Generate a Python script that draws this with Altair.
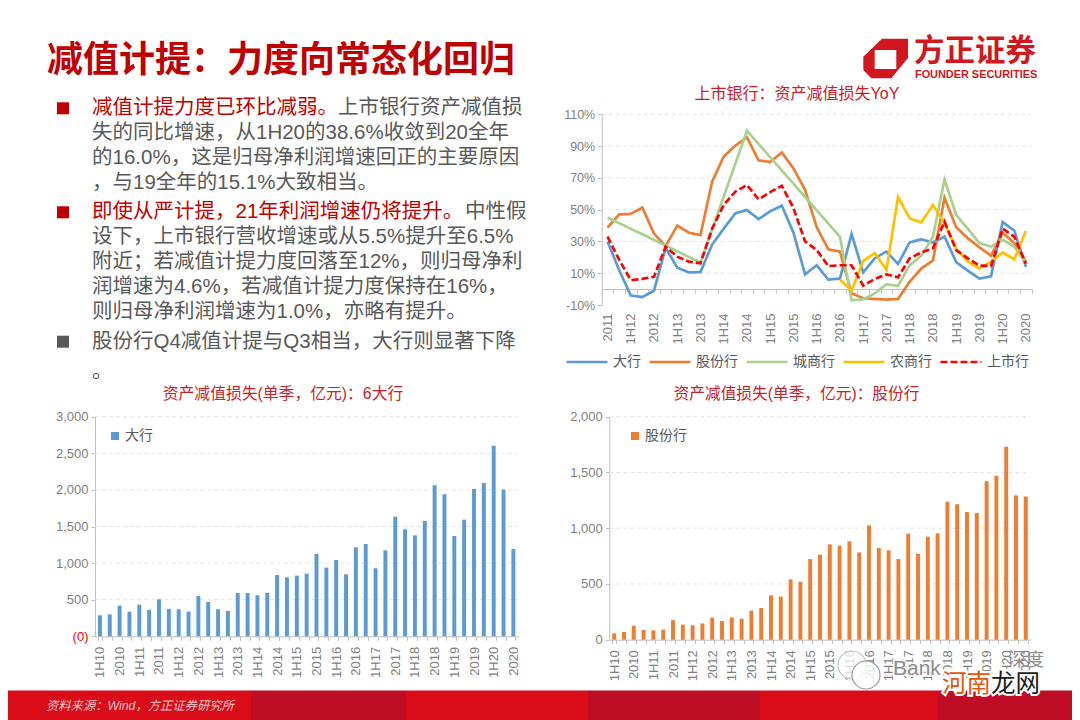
import altair as alt
import pandas as pd

W, H = 1064, 712
FONT = "Liberation Sans, Noto Sans CJK SC"
CJK = "Noto Sans CJK SC"
RED = "#C00000"
TITLE_RED = "#CB2027"
GRAY = "#595959"
TICK = "#7F7F7F"
AXIS = "#BFBFBF"
GRID = "#E4E4E4"

# ---------- values ----------
line_cats = ["2011","1Q12","1H12","3Q12","2012","1Q13","1H13","3Q13","2013","1Q14","1H14","3Q14","2014",
             "1Q15","1H15","3Q15","2015","1Q16","1H16","3Q16","2016","1Q17","1H17","3Q17","2017","1Q18",
             "1H18","3Q18","2018","1Q19","1H19","3Q19","2019","1Q20","1H20","3Q20","2020"]
big = [30,12,-4,-5,-1,26,13.5,10.5,10.7,28,38,47.7,49.8,44,49,52.5,35.5,9.3,15,6,6.6,34.7,10.5,19.4,23.6,
       15.8,29.4,31.3,29.4,33,17,11.6,6.6,8,42.2,36.8,14]
jsb = [38.7,47,47.3,51.3,35,27,40,35.5,34,67.6,83.4,90.3,95.5,81,80,86,76,62.4,39,25,23.6,-2.6,-5.8,-6.2,
       -6.6,-6.2,4.7,13,18,57.5,39,32,26.3,21,35.5,29,17.3]
city = [45,None,None,None,31,None,None,None,16.7,None,None,None,99.7,None,None,None,66.3,None,None,None,33,
        -7,-6.5,-2.7,3,2,15,21,33,69,46.7,38,29,26.7,31,26.7,16.7]
rural = [None]*20 + [6,-1,17.7,22.7,12,58,44.5,42,53,41.4,25.7,17.3,13,17.3,23,18.8,36.6]
listed = [33,18.5,5.7,6.4,7.8,26.7,20.4,17.3,16.2,38,53,61.3,65.5,56.5,61,65,51,30,24.6,14.5,15,15,2.2,6.4,
          9.3,7.4,19.4,23,25.7,42.5,24.6,19.4,14.8,14.5,38,33,16]
line_names = ["大行","股份行","城商行","农商行","上市行"]
line_colors = ["#5B9BD5","#ED7D31","#A9D18E","#FFC000","#FF0000"]

bar_cats = ["1H10","3Q10","2010","1Q11","1H11","3Q11","2011","1Q12","1H12","3Q12","2012","1Q13","1H13","3Q13",
            "2013","1Q14","1H14","3Q14","2014","1Q15","1H15","3Q15","2015","1Q16","1H16","3Q16","2016","1Q17",
            "1H17","3Q17","2017","1Q18","1H18","3Q18","2018","1Q19","1H19","3Q19","2019","1Q20","1H20","3Q20","2020"]
big_q = [287,300,419,337,432,360,505,373,369,337,551,469,369,346,592,592,560,592,837,806,828,856,1124,938,1042,
         847,1215,1261,929,1174,1634,1461,1379,1575,2062,1939,1370,1593,2012,2094,2604,2007,1193]
jsb_q = [57,69,126,87,84,90,176,135,129,146,197,167,200,188,260,284,398,386,541,520,723,762,855,843,882,783,
         1025,822,801,723,951,771,924,954,1238,1214,1145,1136,1420,1471,1731,1294,1285]

line_ticks = [-10,10,30,50,70,90,110]
big_ticks = [0,500,1000,1500,2000,2500,3000]
jsb_ticks = [0,500,1000,1500,2000]

title = "减值计提：力度向常态化回归"
para = [
    ("减值计提力度已环比减弱。", "上市银行资产减值损"),
    ("", "失的同比增速，从1H20的38.6%收敛到20全年"),
    ("", "的16.0%，这是归母净利润增速回正的主要原因"),
    ("", "，与19全年的15.1%大致相当。"),
    ("即使从严计提，21年利润增速仍将提升。", "中性假"),
    ("", "设下，上市银行营收增速或从5.5%提升至6.5%"),
    ("", "附近；若减值计提力度回落至12%，则归母净利"),
    ("", "润增速为4.6%，若减值计提力度保持在16%，"),
    ("", "则归母净利润增速为1.0%，亦略有提升。"),
    ("", "股份行Q4减值计提与Q3相当，大行则显著下降"),
    ("", "。"),
]
para_y = [108.3,133.3,158.3,183.3,212.3,237.3,262.3,287.3,312.3,341.7,371.7]
gray_x = [338,92,92,92,465,92,92,92,92,92,92]

# ---------- helpers (page pixel -> chart pixel) ----------
def px(v): return v - 8

one = pd.DataFrame({"k": [0]})

def label(text, x, y, size, color, align="left", weight="normal", style="normal", font=FONT, **kw):
    return alt.Chart(pd.DataFrame({"t": [text]})).mark_text(
        align=align, baseline="middle", fontSize=size, color=color, fontWeight=weight,
        fontStyle=style, font=font, **kw
    ).encode(text="t:N", x=alt.value(px(x)), y=alt.value(px(y)))

def box(x1, x2, y1, y2, color):
    return alt.Chart(one).mark_rect(color=color, opacity=1).encode(
        x=alt.value(px(x1)), x2=alt.value(px(x2)), y=alt.value(px(y1)), y2=alt.value(px(y2)))

def grid(values, yscale, x1, x2):
    return alt.Chart(pd.DataFrame({"v": values})).mark_rule(
        color=GRID, strokeDash=[4, 3], strokeWidth=1
    ).encode(x=alt.value(px(x1)), x2=alt.value(px(x2)),
             y=alt.Y("v:Q", scale=yscale, axis=None))

SHOW = "test(/^(1H|20)/, datum.value) ? datum.value : ''"

def x_axis(y_page, pad):
    return alt.Axis(title=None, orient="bottom", offset=px(y_page) - H, grid=False,
                    labelExpr=SHOW, labelAngle=270, labelPadding=pad, labelFontSize=13,
                    labelColor=TICK, labelFont=FONT, labelOverlap=False, labelBound=False,
                    labelFlush=False, domainColor=AXIS, tickColor=AXIS, tickSize=4, tickBand="extent")

def y_axis(x_page, values, expr, color=TICK, size=13):
    return alt.Axis(title=None, orient="left", offset=-px(x_page), grid=False, values=values,
                    labelExpr=expr, labelColor=color, labelFontSize=size, labelFont=FONT,
                    labelPadding=3, labelOverlap=False, labelBound=False, labelFlush=False,
                    domainColor=AXIS, tickColor=AXIS, tickSize=4)

def bubble(x, y, size, stroke, fill_opacity):
    return alt.Chart(one).mark_point(shape="circle", filled=True, fill="white", stroke=stroke,
                                     strokeWidth=1.2, size=size, opacity=1,
                                     fillOpacity=fill_opacity, strokeOpacity=1).encode(
        x=alt.value(px(x)), y=alt.value(px(y)))

layers = []

# footer band
FOOT = 690.5
layers += [box(0, 251, FOOT, 720, "#D90C18"), box(251, 406, FOOT, 720, "#BE0D24"),
           box(406, 588, FOOT, 720, "#D90C18"), box(588, 760, FOOT, 720, "#BE0D24"),
           box(760, 938, FOOT, 720, "#D90C18"), box(938, 1080, FOOT, 720, "#BE0D24")]
layers.append(label("资料来源：Wind，方正证券研究所", 46, 705.5, 12.3, "#F0C6C9", style="italic"))

# slide title and logo
layers.append(label(title, 47, 61, 36, RED, weight="bold", font=CJK))
logo_path = "M-0.163,-0.886 L1,-0.886 L1,-0.022 L0.253,0.886 L-0.64,0.886 L-1,0.515 L-1,-0.08 Z"
layers.append(alt.Chart(one).mark_point(shape=logo_path, filled=True, color="#D2161E", opacity=1, size=1998).encode(
    x=alt.value(px(885.65)), y=alt.value(px(58.5))))
layers.append(box(874.7, 896.3, 50, 69, "white"))
layers.append(label("方正证券", 914, 51.5, 30.5, "#D2161E", weight="bold", font=CJK))
layers.append(label("FOUNDER SECURITIES", 915, 74.5, 10.9, "#D2161E", weight="bold"))

# bullets and paragraph text
for yb, c in [(108.3, RED), (212.3, RED), (341.7, GRAY)]:
    layers.append(box(57, 69, yb - 6, yb + 6, c))
for (head, tail), y, gx in zip(para, para_y, gray_x):
    if head:
        layers.append(label(head, 92, y, 20.5, RED))
    layers.append(label(tail, gx, y, 20.5, GRAY))

# panel titles
layers.append(label("上市银行：资产减值损失YoY", 797, 94, 16, TITLE_RED, align="center"))
layers.append(label("资产减值损失(单季，亿元)：6大行", 283, 394, 15.8, TITLE_RED, align="center"))
layers.append(label("资产减值损失(单季，亿元)：股份行", 796.5, 394, 15.7, TITLE_RED, align="center"))

# ---------- line chart ----------
ly = alt.Scale(domain=[-10, 110], range=[px(305), px(114.3)], nice=False, zero=False)
lx = alt.Scale(type="band", domain=line_cats, range=[px(601.7), px(1031.7)], paddingInner=0, paddingOuter=0)
layers.append(grid([v for v in line_ticks if v != -10], ly, 601.7, 1031.7))
rows = []
for name, vals in zip(line_names, [big, jsb, city, rural, listed]):
    for c, v in zip(line_cats, vals):
        if v is not None:
            rows.append({"cat": c, "v": v, "s": name})
line_df = pd.DataFrame(rows)
layers.append(alt.Chart(line_df).mark_line(strokeWidth=2.7, interpolate="linear").encode(
    x=alt.X("cat:N", scale=lx, sort=line_cats, axis=x_axis(289, 20)),
    y=alt.Y("v:Q", scale=ly, axis=y_axis(601.7, line_ticks, "datum.value + '%'", size=12.5)),
    color=alt.Color("s:N", scale=alt.Scale(domain=line_names, range=line_colors), legend=alt.Legend(
        title=None, orient="none", legendX=px(565), legendY=px(340), direction="horizontal", columns=5,
        symbolType="stroke", symbolSize=1681, symbolStrokeWidth=2.7, labelFontSize=14, labelColor=GRAY,
        labelFont=FONT, labelOffset=4, columnPadding=3)),
    strokeDash=alt.StrokeDash("s:N", scale=alt.Scale(domain=line_names,
                              range=[[1, 0], [1, 0], [1, 0], [1, 0], [7, 3]])),
))

# ---------- bars: big six ----------
by = alt.Scale(domain=[0, 3000], range=[px(636.3), px(416.7)], nice=False)
bx = alt.Scale(type="band", domain=bar_cats, range=[px(95), px(518.3)], paddingInner=0.6, paddingOuter=0.3)
layers.append(grid(big_ticks[1:], by, 95, 518.3))
layers.append(alt.Chart(pd.DataFrame({"cat": bar_cats, "v": big_q, "s": "大行"})).mark_bar(opacity=1).encode(
    x=alt.X("cat:N", scale=bx, sort=bar_cats, axis=x_axis(636.3, 6)),
    y=alt.Y("v:Q", scale=by, axis=y_axis(95, big_ticks,
            "datum.value === 0 ? '(0)' : format(datum.value, ',')",
            color=alt.expr("datum.value === 0 ? '#FF0000' : '#7F7F7F'"))),
    color=alt.Color("s:N", scale=alt.Scale(domain=["大行"], range=["#5B9BD5"]), legend=alt.Legend(
        title=None, orient="none", legendX=px(108), legendY=px(429), symbolType="square", symbolSize=64,
        labelFontSize=14, labelColor=GRAY, labelFont=FONT, labelOffset=3)),
))

# ---------- bars: joint-stock ----------
jy = alt.Scale(domain=[0, 2000], range=[px(639.7), px(416.7)], nice=False)
jx = alt.Scale(type="band", domain=bar_cats, range=[px(609.3), px(1030.7)], paddingInner=0.6, paddingOuter=0.3)
layers.append(grid(jsb_ticks[1:], jy, 609.3, 1030.7))
layers.append(alt.Chart(pd.DataFrame({"cat": bar_cats, "v": jsb_q, "s": "股份行"})).mark_bar(opacity=1).encode(
    x=alt.X("cat:N", scale=jx, sort=bar_cats, axis=x_axis(639.7, 6)),
    y=alt.Y("v:Q", scale=jy, axis=y_axis(609.3, jsb_ticks, "format(datum.value, ',')")),
    color=alt.Color("s:N", scale=alt.Scale(domain=["股份行"], range=["#ED7D31"]), legend=alt.Legend(
        title=None, orient="none", legendX=px(628), legendY=px(429), symbolType="square", symbolSize=64,
        labelFontSize=14, labelColor=GRAY, labelFont=FONT, labelOffset=3)),
))

# ---------- watermark ----------
layers.append(bubble(852, 665, 784, "#C4C4C4", 0.75))
layers.append(bubble(866, 675, 784, "#9A9A9A", 0.8))
layers.append(label("Bank", 893, 669, 21, "white", stroke="white", strokeWidth=4, opacity=0.75))
layers.append(label("Bank", 893, 669, 21, "#8C8C8C"))
layers.append(label("深度", 1008, 661, 18, "#8C8C8C", font=CJK))
layers.append(label("河南", 942, 685, 24.5, "white", stroke="white", strokeWidth=4, font=CJK))
layers.append(label("龙网", 991, 685, 24.5, "white", stroke="white", strokeWidth=4, font=CJK))
layers.append(label("河南", 942, 685, 24.5, "#E2560E", font=CJK))
layers.append(label("龙网", 991, 685, 24.5, "#1A1A1A", font=CJK))

chart = alt.layer(*layers).resolve_scale(
    x="independent", y="independent", color="independent", strokeDash="independent"
).properties(
    width=W, height=H, padding=0, autosize=alt.AutoSizeParams(type="none"), background="white"
).configure_view(stroke=None)

chart.save("out.html", embed_options={"renderer": "svg", "actions": False})
